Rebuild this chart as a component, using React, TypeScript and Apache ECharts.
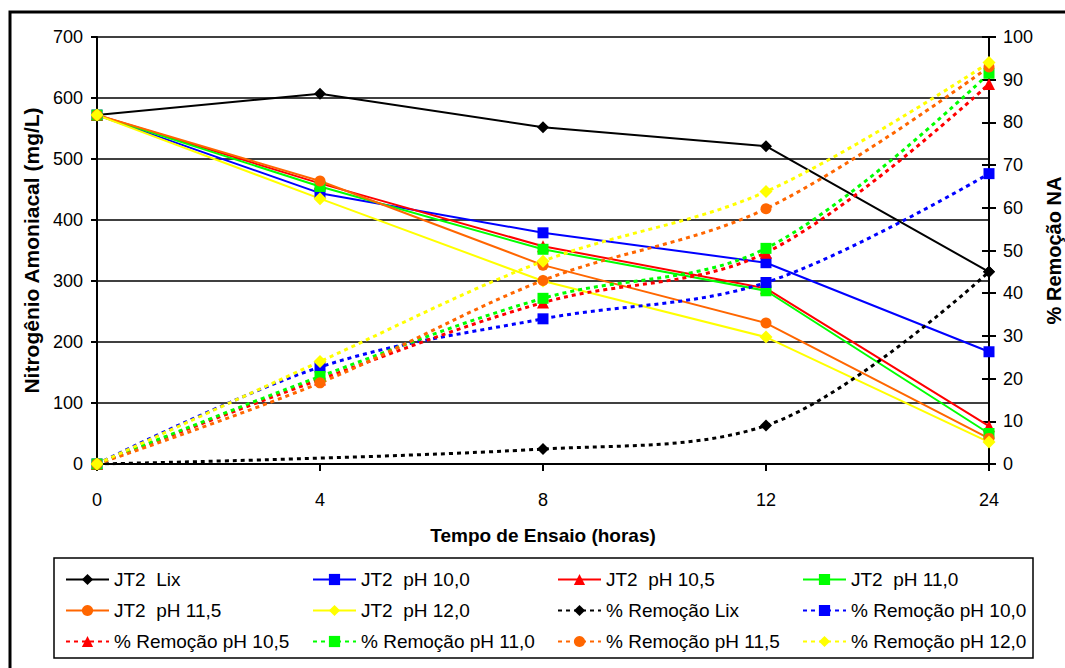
import React, { useEffect, useRef } from "react";
import * as echarts from "echarts";

const categories = ["0", "4", "8", "12", "24"];

const lix = [572, 607, 552, 521, 315];
const ph100 = [572, 444, 379, 330, 184];
const ph105 = [572, 460, 357, 288, 62];
const ph110 = [572, 455, 352, 284, 50];
const ph115 = [572, 464, 326, 231, 42];
const ph120 = [572, 435, 300, 208, 36];

const remLix = [0, null, 3.5, 9, 45];
const rem100 = [0, 22.7, 34, 42.5, 68];
const rem105 = [0, 19.8, 37.8, 49.5, 89];
const rem110 = [0, 20.5, 38.8, 50.5, 91.5];
const rem115 = [0, 19, 43, 59.8, 93];
const rem120 = [0, 24, 47.5, 63.8, 94];

const leftTicks = { min: 0, max: 700, interval: 100 };
const rightTicks = { min: 0, max: 100, interval: 10 };

const FONT = "'Liberation Sans', Arial, sans-serif";

type S = {
  name: string;
  data: (number | null)[];
  color: string;
  symbol: string;
  size: number;
  dashed: boolean;
};

const seriesDefs: S[] = [
  { name: "JT2  Lix", data: lix, color: "#000000", symbol: "diamond", size: 12, dashed: false },
  { name: "JT2  pH 10,0", data: ph100, color: "#0000FF", symbol: "rect", size: 11, dashed: false },
  { name: "JT2  pH 10,5", data: ph105, color: "#FF0000", symbol: "triangle", size: 12, dashed: false },
  { name: "JT2  pH 11,0", data: ph110, color: "#00FF00", symbol: "rect", size: 11, dashed: false },
  { name: "JT2  pH 11,5", data: ph115, color: "#FF6600", symbol: "circle", size: 11, dashed: false },
  { name: "JT2  pH 12,0", data: ph120, color: "#FFFF00", symbol: "diamond", size: 13, dashed: false },
  { name: "% Remoção Lix", data: remLix, color: "#000000", symbol: "diamond", size: 12, dashed: true },
  { name: "% Remoção pH 10,0", data: rem100, color: "#0000FF", symbol: "rect", size: 11, dashed: true },
  { name: "% Remoção pH 10,5", data: rem105, color: "#FF0000", symbol: "triangle", size: 12, dashed: true },
  { name: "% Remoção pH 11,0", data: rem110, color: "#00FF00", symbol: "rect", size: 11, dashed: true },
  { name: "% Remoção pH 11,5", data: rem115, color: "#FF6600", symbol: "circle", size: 11, dashed: true },
  { name: "% Remoção pH 12,0", data: rem120, color: "#FFFF00", symbol: "diamond", size: 13, dashed: true },
];

const legendCols = [65, 312, 557, 802];
const legendRows = [580, 611, 642];

export default function App() {
  const ref = useRef<HTMLDivElement>(null);
  useEffect(() => {
    if (!ref.current) return;
    const chart = echarts.init(ref.current, undefined, { renderer: "svg" });

    const series = seriesDefs.map((s) => ({
      name: s.name,
      type: "line",
      data: s.data,
      yAxisIndex: s.dashed ? 1 : 0,
      symbol: s.symbol,
      symbolSize: s.size,
      showSymbol: true,
      connectNulls: true,
      smooth: s.dashed ? 0.35 : false,
      color: s.color,
      itemStyle: { color: s.color },
      lineStyle: s.dashed
        ? { color: s.color, width: 3, type: [4, 4] }
        : { color: s.color, width: 2, type: "solid" },
      emphasis: { disabled: true },
    }));

    const legends = seriesDefs.map((s, i) => ({
      data: [s.name],
      left: legendCols[i % 4],
      top: legendRows[Math.floor(i / 4)] - 10,
      orient: "horizontal",
      padding: 0,
      itemWidth: 43,
      itemHeight: 14,
      selectedMode: false,
      textStyle: { fontSize: 19, color: "#000", fontFamily: FONT },
    }));

    chart.setOption({
      animation: false,
      backgroundColor: "#ffffff",
      textStyle: { fontFamily: FONT },
      grid: {
        left: 97,
        right: 76,
        top: 37,
        bottom: 204,
        containLabel: false,
        outerBoundsMode: "none",
      },
      xAxis: {
        type: "category",
        data: categories,
        boundaryGap: false,
        name: "Tempo de Ensaio (horas)",
        nameLocation: "middle",
        nameGap: 62,
        nameTextStyle: { fontSize: 19, fontWeight: "bold", color: "#000", fontFamily: FONT },
        axisLine: { lineStyle: { color: "#000", width: 2 } },
        axisTick: { show: true, length: 7, alignWithLabel: true, lineStyle: { color: "#000", width: 2 } },
        axisLabel: { fontSize: 18, color: "#000", margin: 27, fontFamily: FONT },
        splitLine: { show: false },
      },
      yAxis: [
        {
          type: "value",
          position: "left",
          ...leftTicks,
          name: "Nitrogênio Amoniacal (mg/L)",
          nameLocation: "middle",
          nameGap: 51,
          nameTextStyle: { fontSize: 21, fontWeight: "bold", color: "#000", fontFamily: FONT },
          axisLine: { show: true, lineStyle: { color: "#000", width: 2 } },
          axisTick: { show: true, length: 6, lineStyle: { color: "#000", width: 2 } },
          axisLabel: { fontSize: 18, color: "#000", margin: 14, fontFamily: FONT },
          splitLine: { show: true, lineStyle: { color: "#000", width: 1.5 } },
        },
        {
          type: "value",
          position: "right",
          ...rightTicks,
          name: "% Remoção NA",
          nameLocation: "middle",
          nameGap: 53,
          nameTextStyle: { fontSize: 20, fontWeight: "bold", color: "#000", fontFamily: FONT },
          axisLine: { show: true, lineStyle: { color: "#000", width: 2 } },
          axisTick: { show: true, length: 7, lineStyle: { color: "#000", width: 2 } },
          axisLabel: { fontSize: 18, color: "#000", margin: 14, fontFamily: FONT },
          splitLine: { show: false },
        },
        {
          type: "value",
          position: "right",
          ...rightTicks,
          axisLine: { show: false },
          axisTick: { show: true, inside: true, length: 7, lineStyle: { color: "#000", width: 2 } },
          axisLabel: { show: false },
          splitLine: { show: false },
        },
      ],
      legend: legends,
      series,
      graphic: [
        {
          type: "rect",
          silent: true,
          z: -10,
          shape: { x: 10, y: 12, width: 1100, height: 700 },
          style: { fill: "none", stroke: "#000", lineWidth: 3 },
        },
        {
          type: "rect",
          silent: true,
          shape: { x: 54, y: 558, width: 979, height: 100 },
          style: { fill: "none", stroke: "#000", lineWidth: 1.5 },
        },
      ],
    });

    return () => chart.dispose();
  }, []);

  return (
    <div
      ref={ref}
      style={{ position: "fixed", left: 0, top: 0, width: 1065, height: 668, background: "#fff" }}
    />
  );
}
